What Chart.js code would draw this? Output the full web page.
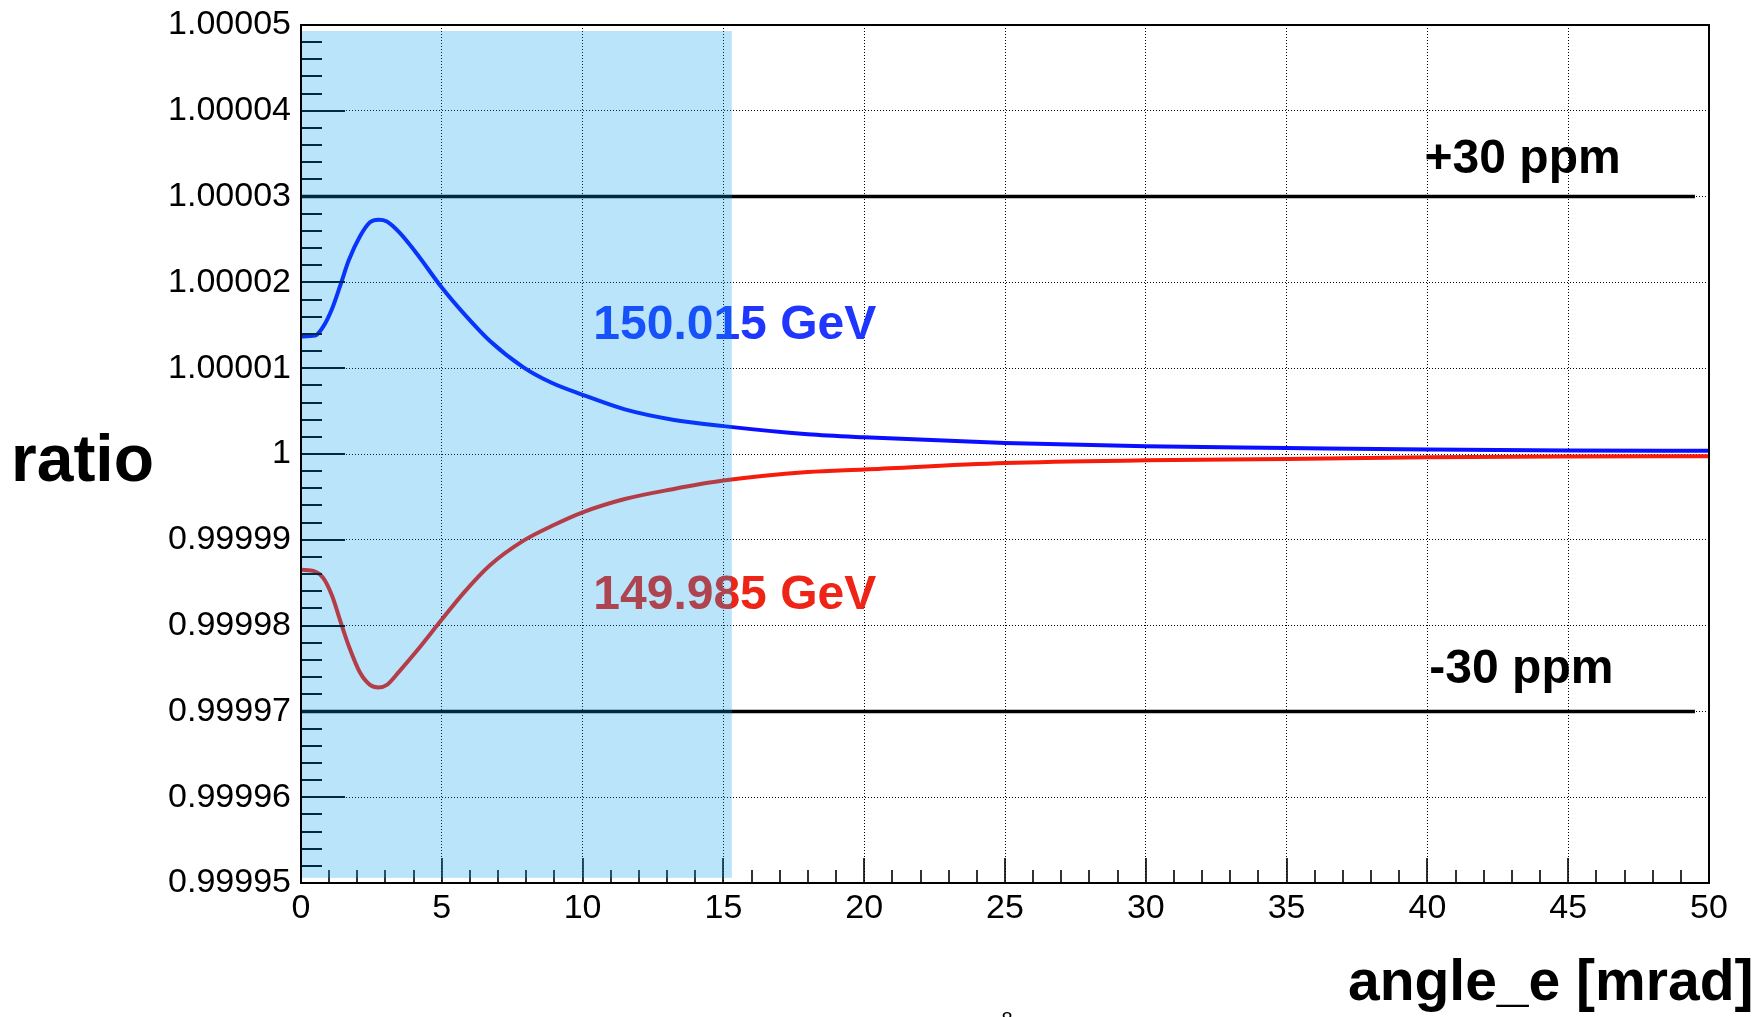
<!DOCTYPE html>
<html>
<head>
<meta charset="utf-8">
<script src="https://cdn.jsdelivr.net/npm/chart.js@4.4.1/dist/chart.umd.min.js"></script>
<style>
  html, body { margin: 0; padding: 0; background: #fff; overflow: hidden; }
  canvas { display: block; }
</style>
</head>
<body>
<canvas id="c" width="1764" height="1017"></canvas>
<script>
// Electron angle [mrad] at which both ratio curves are sampled
const angle = [0, 0.5, 0.8, 1.1, 1.4, 1.7, 2.1, 2.45, 2.75, 3.05, 3.5, 4.1, 5, 5.8, 6.7, 7.9, 8.9, 10, 11.5, 13.2, 15, 18, 20, 25, 30, 35, 40, 45, 50];

// Ratio for a beam energy of 150.015 GeV
const ratioHigh = [1.0000137, 1.0000138, 1.0000149, 1.0000169, 1.0000197, 1.0000226, 1.0000254, 1.0000270, 1.0000273, 1.0000271,
                   1.0000258, 1.0000234, 1.0000194, 1.0000163, 1.0000132, 1.0000101, 1.0000083, 1.0000069, 1.0000052, 1.0000040,
                   1.00000325, 1.0000023, 1.00000194, 1.00000128, 1.00000089, 1.0000007, 1.00000052, 1.00000042, 1.00000038];

// Ratio for a beam energy of 149.985 GeV
const ratioLow = [0.9999865, 0.9999863, 0.9999855, 0.9999835, 0.9999805, 0.9999776, 0.9999745, 0.9999731, 0.9999728, 0.9999731,
                  0.9999747, 0.9999770, 0.9999807, 0.9999839, 0.9999870, 0.9999899, 0.9999916, 0.9999932, 0.99999475, 0.9999959,
                  0.9999969, 0.9999979, 0.9999982, 0.99999895, 0.99999926, 0.99999942, 0.99999962, 0.9999997, 0.99999974];

// Axis ticks
const xTickValues = [0, 5, 10, 15, 20, 25, 30, 35, 40, 45, 50];
const xTickLabels = ['0', '5', '10', '15', '20', '25', '30', '35', '40', '45', '50'];
const yTickValues = [0.99995, 0.99996, 0.99997, 0.99998, 0.99999, 1, 1.00001, 1.00002, 1.00003, 1.00004, 1.00005];
const yTickLabels = ['0.99995', '0.99996', '0.99997', '0.99998', '0.99999', '1', '1.00001', '1.00002', '1.00003', '1.00004', '1.00005'];

// ±30 ppm tolerance levels and their angular extent
const ppmLevels = [1.00003, 0.99997];
const ppmLineSpan = [0, 49.5];

// Highlighted acceptance band (angle range, ratio range)
const bandAngle = [0, 15.3];
const bandRatio = [0.9999506, 1.0000493];

// In-plot annotations: text, angle, ratio (baseline)
const notes = [
  { text: '150.015 GeV', x: 10.38, y: 1.00001335, color: '#1f36ff' },
  { text: '149.985 GeV', x: 10.38, y: 0.9999819, color: '#ee2416' },
  { text: '+30 ppm', x: 39.9, y: 1.0000328, color: '#000' },
  { text: '-30 ppm', x: 40.07, y: 0.9999733, color: '#000' }
];

const FONT = '"Liberation Sans", Arial, Helvetica, sans-serif';

const toPoints = (xs, ys) => xs.map((v, i) => ({ x: v, y: ys[i] }));

const decor = {
  id: 'decor',
  afterDatasetsDraw(chart) {
    const { ctx, chartArea: a, scales: { x, y } } = chart;
    ctx.save();

    // annotations (under the band)
    ctx.font = 'bold 48px ' + FONT;
    ctx.textBaseline = 'alphabetic';
    ctx.textAlign = 'left';
    notes.forEach(n => {
      ctx.fillStyle = n.color;
      ctx.fillText(n.text, x.getPixelForValue(n.x), y.getPixelForValue(n.y));
    });

    // inner tick marks: y axis (major + 4 minor), x axis (major + 4 minor)
    ctx.strokeStyle = '#000';
    ctx.lineWidth = 2;
    ctx.beginPath();
    const yp = yTickValues.map(v => y.getPixelForValue(v));
    for (let i = 0; i < yp.length; i++) {
      const p = Math.round(yp[i]);
      if (i > 0 && i < yp.length - 1) { ctx.moveTo(a.left, p); ctx.lineTo(a.left + 44, p); }
      if (i < yp.length - 1) {
        for (let k = 1; k < 5; k++) {
          const q = Math.round(yp[i] + (yp[i + 1] - yp[i]) * k / 5);
          ctx.moveTo(a.left, q); ctx.lineTo(a.left + 21, q);
        }
      }
    }
    const xp = xTickValues.map(v => x.getPixelForValue(v));
    ctx.stroke();
    ctx.lineWidth = 1.6;
    ctx.beginPath();
    for (let i = 0; i < xp.length; i++) {
      const p = Math.round(xp[i]);
      if (i > 0 && i < xp.length - 1) { ctx.moveTo(p, a.bottom); ctx.lineTo(p, a.bottom - 25); }
      if (i < xp.length - 1) {
        for (let k = 1; k < 5; k++) {
          const q = Math.round(xp[i] + (xp[i + 1] - xp[i]) * k / 5);
          ctx.moveTo(q, a.bottom); ctx.lineTo(q, a.bottom - 13);
        }
      }
    }
    ctx.stroke();

    // translucent acceptance band on top of everything inside the frame
    const bx0 = x.getPixelForValue(bandAngle[0]);
    const bx1 = x.getPixelForValue(bandAngle[1]);
    const by0 = y.getPixelForValue(bandRatio[1]);
    const by1 = y.getPixelForValue(bandRatio[0]);
    ctx.fillStyle = 'rgba(0,155,237,0.27)';
    ctx.fillRect(bx0, by0, bx1 - bx0, by1 - by0);

    // frame
    ctx.strokeStyle = '#000';
    ctx.lineWidth = 2;
    ctx.strokeRect(a.left, a.top, a.right - a.left, a.bottom - a.top);
    ctx.restore();
  },
  afterDraw(chart) {
    const { ctx } = chart;
    ctx.save();
    ctx.fillStyle = '#000';
    ctx.textAlign = 'left';
    ctx.textBaseline = 'alphabetic';
    ctx.font = 'bold 66px ' + FONT;
    ctx.fillText('ratio', 11, 481);
    ctx.font = 'bold 57px ' + FONT;
    ctx.fillText('angle_e [mrad]', 1348, 1000);
    ctx.font = '20px ' + FONT;
    ctx.textAlign = 'center';
    ctx.fillText('8', 1007, 1026);
    ctx.restore();
  }
};

new Chart(document.getElementById('c'), {
  type: 'line',
  data: {
    datasets: [
      { data: toPoints(angle, ratioHigh), borderColor: '#0a10ff', borderWidth: 4, cubicInterpolationMode: 'monotone' },
      { data: toPoints(angle, ratioLow), borderColor: '#f61c0c', borderWidth: 4, cubicInterpolationMode: 'monotone' },
      { data: toPoints(ppmLineSpan, [ppmLevels[0], ppmLevels[0]]), borderColor: '#000', borderWidth: 3.5 },
      { data: toPoints(ppmLineSpan, [ppmLevels[1], ppmLevels[1]]), borderColor: '#000', borderWidth: 3.5 }
    ]
  },
  options: {
    responsive: false,
    animation: false,
    devicePixelRatio: 1,
    layout: { padding: { top: 25, right: 55, left: 0, bottom: 0 } },
    elements: { point: { radius: 0 }, line: { fill: false } },
    plugins: { legend: { display: false }, tooltip: { enabled: false } },
    scales: {
      x: {
        type: 'linear', min: 0, max: 50,
        afterBuildTicks: s => { s.ticks = xTickValues.map(v => ({ value: v })); },
        afterFit: s => { s.height = 134; s.paddingLeft = 0; s.paddingRight = 0; },
        ticks: {
          callback: (v, i) => xTickLabels[i],
          color: '#000', padding: 5, maxRotation: 0, autoSkip: false,
          font: { family: FONT, size: 34 }
        },
        grid: { color: '#000', lineWidth: 1, drawTicks: false },
        border: { display: false, dash: [1, 2] }
      },
      y: {
        type: 'linear', min: 0.99995, max: 1.00005,
        afterBuildTicks: s => { s.ticks = yTickValues.map(v => ({ value: v })); },
        afterFit: s => { s.width = 301; s.paddingTop = 0; s.paddingBottom = 0; },
        ticks: {
          callback: (v, i) => yTickLabels[i],
          color: '#000', padding: 10, autoSkip: false,
          font: { family: FONT, size: 34 }
        },
        grid: { color: '#000', lineWidth: 1, drawTicks: false },
        border: { display: false, dash: [1, 2] }
      }
    }
  },
  plugins: [decor]
});
</script>
</body>
</html>
